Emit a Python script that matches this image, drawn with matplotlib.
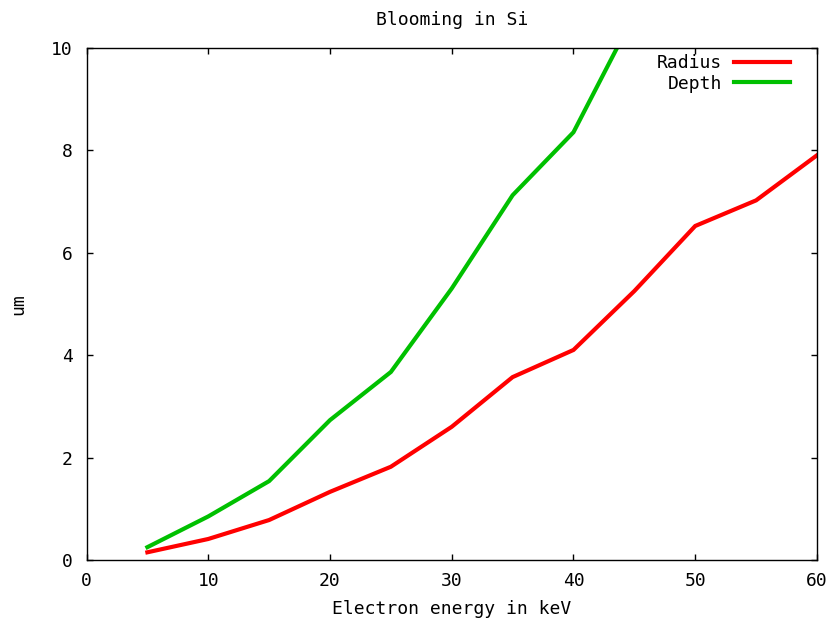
import matplotlib
matplotlib.use("Agg")
import matplotlib.pyplot as plt

# data
energy = [5, 10, 15, 20, 25, 30, 35, 40, 45, 50, 55, 60]
radius = [0.15, 0.41, 0.78, 1.33, 1.82, 2.60, 3.57, 4.10, 5.25, 6.52, 7.02, 7.90]
depth = [0.25, 0.85, 1.54, 2.73, 3.67, 5.30, 7.12, 8.35, 10.65]

xticks = [0, 10, 20, 30, 40, 50, 60]
yticks = [0, 2, 4, 6, 8, 10]

plt.rcParams["font.family"] = ["DejaVu Sans Mono"]
FS = 13

fig = plt.figure(figsize=(8.35, 6.22), dpi=100)
ax = fig.add_axes([0.1036, 0.0997, 0.8748, 0.8236])

ax.plot(energy, radius, color="#ff0000", lw=3, label="Radius", solid_joinstyle="miter")
ax.plot(energy[:len(depth)], depth, color="#00c000", lw=3, label="Depth", solid_joinstyle="miter")

ax.set_xlim(0, 60)
ax.set_ylim(0, 10)
ax.set_xticks(xticks)
ax.set_yticks(yticks)
ax.tick_params(direction="in", length=4, width=1, top=True, right=True,
               labelsize=FS, color="black")
ax.tick_params(axis="y", pad=10)
ax.tick_params(axis="x", pad=9)
for s in ax.spines.values():
    s.set_linewidth(1)
    s.set_color("black")

ax.set_title("Blooming in Si", fontsize=FS, pad=16)
ax.set_xlabel("Electron energy in keV", fontsize=FS, labelpad=7)
ax.set_ylabel("um", fontsize=FS, labelpad=17)

leg = ax.legend(loc="upper right", frameon=False, markerfirst=False, fontsize=FS,
                handlelength=3.1, handletextpad=0.65, labelspacing=0.15,
                borderaxespad=0.0, bbox_to_anchor=(0.973, 1.002))
for t in leg.get_texts():
    t.set_ha("right")

fig.savefig("out.png", dpi=100)
